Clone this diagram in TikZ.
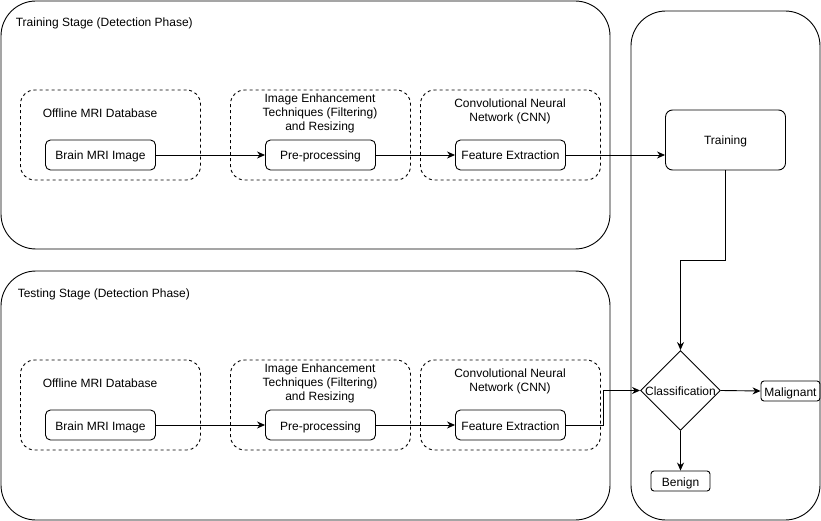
\documentclass[tikz,border=0pt]{standalone}
\usepackage{fontspec}
\setmainfont{Liberation Sans}
\usetikzlibrary{arrows.meta,shapes.geometric}

\begin{document}
\begin{tikzpicture}[x=1pt, y=-1pt, line width=0.9pt,
    font=\fontsize{12}{14}\selectfont,
    stage/.style={draw, rounded corners=35pt},
    group/.style={draw, dashed, rounded corners=14pt, minimum width=180pt, minimum height=90pt},
    step box/.style={draw, rounded corners=5pt, minimum width=110pt, minimum height=30pt, inner sep=2pt,
      text height=10pt, text depth=0pt},
    small box/.style={draw, rounded corners=3pt, minimum width=59pt, minimum height=20pt, inner sep=1pt,
      text height=10pt, text depth=0pt},
    decision/.style={draw, diamond, aspect=1, minimum size=80pt, inner sep=0pt},
    flow/.style={-{Stealth[length=8pt,width=7pt]}}]
  \useasboundingbox (0,0) rectangle (821,521);

  % stage frames
  \draw[stage] (1,1) rectangle (610,249);
  \draw[stage] (1,271) rectangle (610,520);
  \draw[stage] (631,11) rectangle (820,520);
  \node[anchor=west] (trainstage) at (12,23) {Training Stage (Detection Phase)};
  \node[anchor=west] (teststage) at (14,294) {Testing Stage (Detection Phase)};

  % training stage
  \node[group] (db1) at (110.5,135) {};
  \node[group] (enh1) at (320.5,135) {};
  \node[group] (cnn1) at (510.5,135) {};
  \node (db1text) at (100,113) {Offline MRI Database};
  \node[align=center] (enh1text) at (320,113.5) {Image Enhancement\\Techniques (Filtering)\\and Resizing};
  \node[align=center] (cnn1text) at (510,111.5) {Convolutional Neural\\Network (CNN)};
  \node[step box] (brain1) at (100.5,155) {Brain MRI Image};
  \node[step box] (pre1) at (320.5,155) {Pre-processing};
  \node[step box] (feat1) at (510.5,155) {Feature Extraction};

  % testing stage
  \node[group] (db2) at (110.5,405) {};
  \node[group] (enh2) at (320.5,405) {};
  \node[group] (cnn2) at (510.5,405) {};
  \node (db2text) at (100,383) {Offline MRI Database};
  \node[align=center] (enh2text) at (320,383.5) {Image Enhancement\\Techniques (Filtering)\\and Resizing};
  \node[align=center] (cnn2text) at (510,381.5) {Convolutional Neural\\Network (CNN)};
  \node[step box] (brain2) at (100.5,425) {Brain MRI Image};
  \node[step box] (pre2) at (320.5,425) {Pre-processing};
  \node[step box] (feat2) at (510.5,425) {Feature Extraction};

  % right column
  \node[step box, rounded corners=7pt, minimum width=120pt, minimum height=60pt] (train) at (725.5,140) {Training};
  \node[decision] (cls) at (680.5,390.5) {};
  \node[text height=10pt, text depth=0pt] (clstext) at (cls) {Classification};
  \node[small box] (mal) at (790.5,391) {Malignant};
  \node[small box] (ben) at (680.5,481) {Benign};

  % connectors
  \draw[flow] (brain1) -- (pre1);
  \draw[flow] (pre1) -- (feat1);
  \draw[flow] (feat1.east) -- (feat1.east -| train.west);
  \draw[flow] (brain2) -- (pre2);
  \draw[flow] (pre2) -- (feat2);
  \draw[flow] (train.south) -- ++(0,90) -| (cls.north);
  \draw[flow] (feat2.east) -- ++(37,0) |- (cls.west);
  \draw[flow] (cls.east) -- (mal.west);
  \draw[flow] (cls.south) -- (ben.north);
\end{tikzpicture}
\end{document}
